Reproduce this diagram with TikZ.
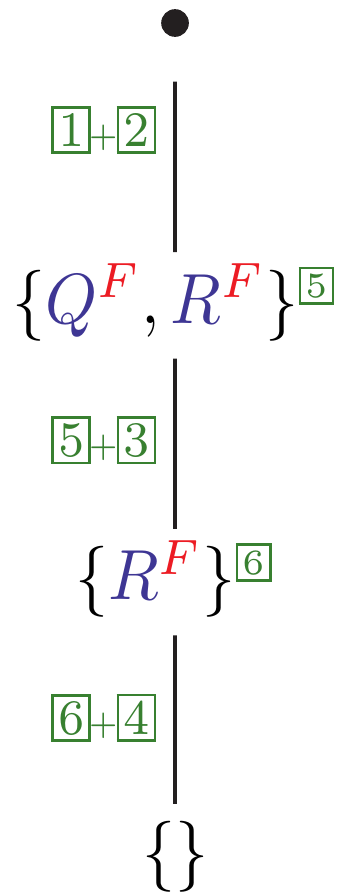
\documentclass[tikz,border=0pt]{standalone}
\usepackage{amsmath}
\usepackage{graphicx}
\usepackage{xcolor}
\usepackage{tikz}
\usetikzlibrary{positioning}
\definecolor{setblue}{RGB}{62,54,148}
\definecolor{setred}{RGB}{236,28,36}
\definecolor{stepgreen}{RGB}{56,128,48}
\definecolor{inkblack}{RGB}{35,31,32}
\setlength{\fboxsep}{0.6pt}
\newcommand{\stepbox}[1]{{\color{stepgreen}\fbox{\rule[-0.15pt]{0pt}{4.75pt}#1}}}
\newcommand{\supbox}[1]{{\color{stepgreen}\fbox{\tiny #1}}}
\newcommand{\steplabel}[2]{\stepbox{#1}\kern-0.2pt{\color{stepgreen}\scalebox{0.7}{+}}\kern-0.2pt\stepbox{#2}}
\newcommand{\fq}{\textcolor{setblue}{Q}^{\textcolor{setred}{F}}}
\newcommand{\fr}{\textcolor{setblue}{R}^{\textcolor{setred}{F}}}
\tikzset{
  setnode/.style={anchor=base, xscale=0.93, inner xsep=0pt, inner ysep=2.3pt, text height=7.5pt, text depth=2.5pt},
  rootdot/.style={circle, fill=inkblack, minimum size=3.9pt, inner sep=0pt},
  conn/.style={draw=inkblack, line width=0.55pt},
  steplbl/.style={left=2.4pt, xscale=0.93, inner sep=0pt, font=\scriptsize}
}
\begin{document}
\begin{tikzpicture}
\useasboundingbox (-24.65pt,0pt) rectangle (23.1pt,-125.77pt);
\node[rootdot] (root) at (0,-3.24pt) {};
\node[setnode] (s1) at (0,-45.5pt) {$\{\fq, \fr\}^{\supbox{5}}$};
\node[setnode] (s2) at (0,-84.5pt) {$\{\fr\}^{\supbox{6}}$};
\node[setnode] (s3) at (0,-123.2pt) {$\{\}$};
\draw[conn, shorten <=6.1pt] (root) -- node[steplbl, pos=0.43] {\steplabel{1}{2}} (s1);
\draw[conn] (s1) -- node[steplbl, pos=0.48] {\steplabel{5}{3}} (s2);
\draw[conn] (s2) -- node[steplbl, pos=0.49] {\steplabel{6}{4}} (s3);
\end{tikzpicture}
\end{document}
